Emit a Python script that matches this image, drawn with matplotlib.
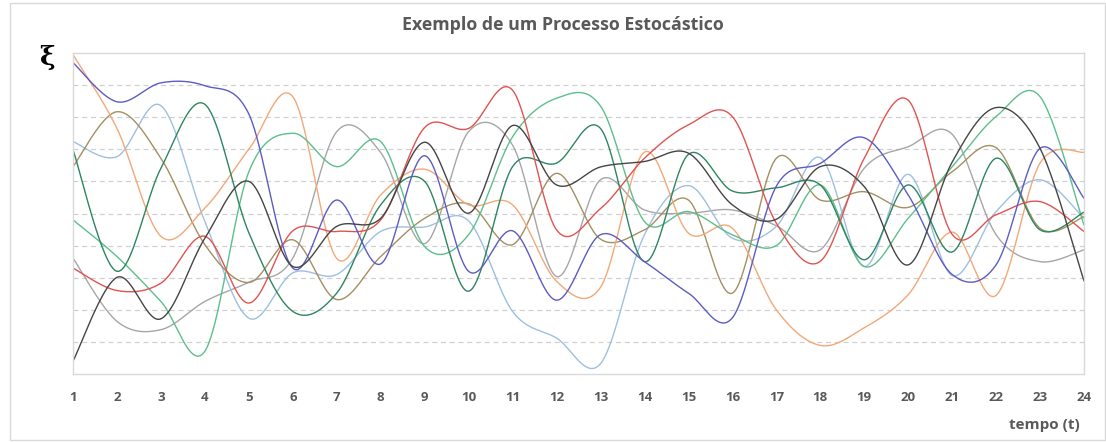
import numpy as np
import matplotlib
matplotlib.use("Agg")
import matplotlib.pyplot as plt
from matplotlib.patches import Rectangle

t = list(range(1, 25))
tick_labels = [str(v) for v in t]

blue = [9.7, 8.48, 9.07, 8.98, 8.1, 3.3, 5.42, 3.43, 6.8, 3.2, 4.46, 2.3, 4.34, 3.5, 2.52, 1.75, 5.85, 6.56, 7.36, 5.58, 3.1, 3.4, 7.03, 5.48]
orange = [9.95, 7.65, 4.29, 5.17, 7.0, 8.64, 3.6, 5.58, 6.38, 5.27, 5.27, 2.89, 2.7, 6.91, 4.39, 4.54, 2.0, 0.89, 1.44, 2.47, 4.42, 2.45, 6.57, 6.91]
olive = [6.46, 8.17, 6.72, 4.03, 2.85, 4.18, 2.32, 3.66, 4.85, 5.3, 4.03, 6.25, 4.2, 4.49, 5.42, 2.52, 6.72, 5.42, 5.68, 5.19, 6.3, 7.05, 4.54, 4.9]
light_blue = [7.24, 6.77, 8.36, 4.75, 1.74, 3.15, 3.1, 4.44, 4.58, 4.77, 1.95, 1.12, 0.32, 4.34, 5.87, 4.23, 4.6, 6.74, 3.35, 6.22, 3.07, 5.06, 6.05, 4.85]
dark_green = [6.98, 3.2, 6.41, 8.4, 4.4, 1.95, 2.52, 5.27, 6.0, 2.58, 6.46, 6.57, 7.65, 3.5, 6.84, 5.7, 5.8, 5.89, 3.56, 5.89, 3.8, 6.72, 4.49, 5.04]
teal = [4.8, 3.66, 2.26, 0.71, 6.3, 7.5, 6.46, 7.24, 3.97, 4.34, 7.39, 8.59, 8.35, 4.75, 5.06, 4.34, 4.0, 5.89, 3.35, 4.85, 6.45, 8.02, 8.64, 4.64]
grey = [3.61, 1.64, 1.38, 2.26, 2.86, 3.61, 7.55, 6.9, 4.06, 7.55, 7.13, 3.04, 6.05, 5.11, 5.01, 5.11, 4.62, 3.87, 6.41, 7.08, 7.47, 4.34, 3.5, 3.87]
red = [3.3, 2.6, 2.83, 4.29, 2.21, 4.46, 4.44, 4.8, 7.68, 7.65, 8.84, 4.49, 5.15, 6.72, 7.76, 8.02, 4.7, 3.51, 6.72, 8.53, 4.35, 4.96, 5.37, 4.44]
black = [0.4, 3.01, 1.72, 4.23, 6.0, 3.35, 4.6, 4.85, 7.22, 5.01, 7.74, 5.89, 6.45, 6.62, 6.88, 5.27, 4.82, 6.46, 5.84, 3.4, 6.6, 8.3, 7.03, 2.9]

series = [
    (grey, "#a6a6a6"),
    (light_blue, "#9dc0e0"),
    (olive, "#a39062"),
    (orange, "#f2a878"),
    (teal, "#5cbf8c"),
    (dark_green, "#2e8560"),
    (red, "#e05450"),
    (blue, "#5c5cc4"),
    (black, "#454545"),
]


def excel_smooth(xs, ys, n=40):
    xs = np.asarray(xs, float)
    ys = np.asarray(ys, float)
    P = np.column_stack([xs, ys])
    m = len(P)
    out = []
    for i in range(m - 1):
        p0 = P[max(i - 1, 0)]
        p1 = P[i]
        p2 = P[i + 1]
        p3 = P[min(i + 2, m - 1)]
        b1 = p1 + (p2 - p0) / 6.0
        b2 = p2 - (p3 - p1) / 6.0
        s = np.linspace(0, 1, n, endpoint=(i == m - 2))[:, None]
        seg = ((1 - s) ** 3) * p1 + 3 * ((1 - s) ** 2) * s * b1 + 3 * (1 - s) * s ** 2 * b2 + s ** 3 * p2
        out.append(seg)
    c = np.vstack(out)
    return c[:, 0], c[:, 1]


fig = plt.figure(figsize=(11.06, 4.42), dpi=100)
fig.patch.set_facecolor("white")

# outer chart border
fig.patches.append(Rectangle((10 / 1106, 2 / 442), 1095 / 1106, 437 / 442,
                             transform=fig.transFigure, fill=False,
                             edgecolor="#d9d9d9", linewidth=1.0))

ax = fig.add_axes([73 / 1106, 1 - 374 / 442, (1084 - 73) / 1106, (374 - 53) / 442])
ax.set_xlim(1, 24)
ax.set_ylim(0, 10)

for y in range(1, 10):
    ax.axhline(y, color="#d0d0d0", linewidth=0.9, linestyle=(0, (4, 3)), zorder=1)

for data, col in series:
    xs, ys = excel_smooth(t, data)
    ax.plot(xs, ys, color=col, linewidth=1.0, zorder=2, solid_capstyle="round")

for sp in ax.spines.values():
    sp.set_color("#d9d9d9")
    sp.set_linewidth(1.0)

txt_color = "#595959"
fam = ["Open Sans", "DejaVu Sans"]
ax.set_xticks(t)
ax.set_xticklabels(tick_labels, fontsize=9.5, fontweight="bold", color=txt_color, family=fam)
ax.tick_params(axis="x", length=0, pad=12)
ax.set_yticks([])

fig.text(563 / 1106, 1 - 25 / 442, "Exemplo de um Processo Estocástico", ha="center", va="center",
         fontsize=12.8, fontweight="bold", color=txt_color, family=fam)
fig.text(1080 / 1106, 1 - 425 / 442, "tempo (t)", ha="right", va="center",
         fontsize=11, fontweight="bold", color=txt_color, family=fam)
fig.text(47 / 1106, 1 - 58 / 442, "ξ", ha="center", va="center",
         fontsize=19, fontweight="bold", color="black", family=["DejaVu Serif"])

fig.savefig("out.png", dpi=100, facecolor="white")
